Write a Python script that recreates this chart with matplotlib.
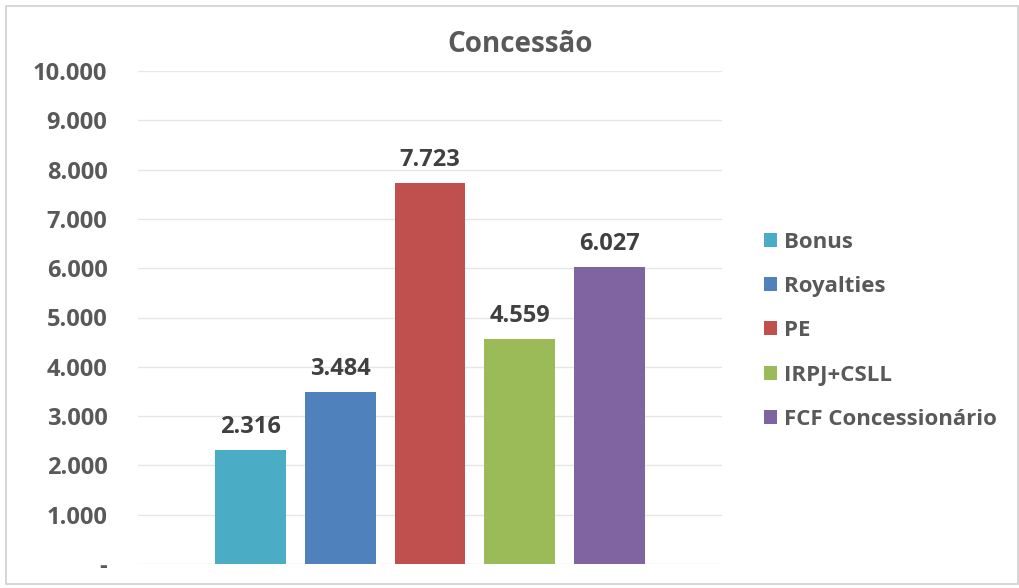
import numpy as np
import matplotlib.pyplot as plt
from matplotlib.patches import Rectangle

plt.rcParams['font.family'] = ['Open Sans', 'DejaVu Sans']

series = ["Bonus", "Royalties", "PE", "IRPJ+CSLL", "FCF Concessionário"]
values = [2316, 3484, 7723, 4559, 6027]
colors = ["#4BACC6", "#4F81BD", "#C0504D", "#9BBB59", "#8064A2"]
yticks = [0, 1000, 2000, 3000, 4000, 5000, 6000, 7000, 8000, 9000, 10000]
ylabels = ["-", "1.000", "2.000", "3.000", "4.000", "5.000", "6.000",
           "7.000", "8.000", "9.000", "10.000"]
value_labels = ["2.316", "3.484", "7.723", "4.559", "6.027"]

txt = "#595959"

fig = plt.figure(figsize=(10.2, 5.88), dpi=100)
fig.patches.append(Rectangle((6/1020, 4/588), 1 - 8/1020, 1 - 10/588,
                             transform=fig.transFigure, fill=False,
                             edgecolor="#d0d0d0", linewidth=1.2))
ax = fig.add_axes([138/1020, 1 - 564/588, (722-138)/1020, (564-71)/588])

x = np.arange(len(series))
bars = ax.bar(x, values, width=0.79, color=colors, label=series, zorder=3)
for xi, v, lab in zip(x, values, value_labels):
    ax.text(xi, v + 220, lab, ha="center", va="bottom", fontsize=17,
            fontweight="bold", color="#404040")

ax.set_xlim(-1.26, 5.26)
ax.set_ylim(0, 10000)
ax.set_yticks(yticks)
ax.set_yticklabels(ylabels, fontsize=17, fontweight="bold", color=txt)
ax.set_xticks([])
ax.tick_params(axis="y", length=0, pad=22)
ax.grid(axis="y", color="#e6e6e6", linewidth=1, zorder=0)
for s in ax.spines.values():
    s.set_visible(False)

fig.text(520/1020, 1 - 45/588, "Concessão", ha="center", va="center",
         fontsize=20, fontweight="bold", color=txt)

leg = ax.legend(loc="upper left", bbox_to_anchor=(748/1020, 1 - 216/588),
                bbox_transform=fig.transFigure, frameon=False,
                prop={"size": 16, "weight": "bold"}, handlelength=0.6,
                handleheight=0.6, handletextpad=0.3, labelspacing=1.05,
                borderpad=0.2)
for t in leg.get_texts():
    t.set_color(txt)

fig.savefig("out.png", dpi=100)
